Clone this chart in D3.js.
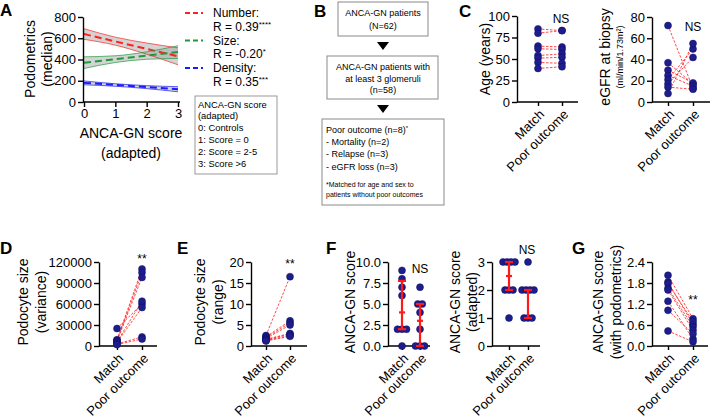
<!DOCTYPE html>
<html><head><meta charset="utf-8">
<script src="https://cdn.jsdelivr.net/npm/d3@7"></script>
<style>body{margin:0;background:#fff}svg{display:block}</style>
</head><body><svg id="fig" width="710" height="420"></svg>
<script>
// ---------- DATA ----------
// Panel A
const scoreTicks = [0, 1, 2, 3];
const podoTicks = [0, 200, 400, 600, 800];
const fitEnds = [0, 3];
const bandX = [0, 1, 2, 3];
const numberFit = [640, 430];
const numberLo = [590, 535, 450, 350];
const numberHi = [690, 610, 555, 510];
const sizeFit = [370, 470];
const sizeLo = [315, 372, 402, 410];
const sizeHi = [425, 435, 472, 530];
const densityFit = [180, 120];
const densityLo = [162, 148, 126, 96];
const densityHi = [198, 172, 154, 144];
const seriesNames = ["Number:", "Size:", "Density:"];
const rTexts = ["R = 0.39", "R = -0.20", "R = 0.35"];
const rStars = ["****", "*", "***"];
const scoreLegend = ["ANCA-GN score", "(adapted)", "0: Controls", "1: Score = 0", "2: Score = 2-5", "3: Score >6"];
// Panel B
const box1Lines = ["ANCA-GN patients", "(N=62)"];
const box2Lines = ["ANCA-GN patients with", "at least 3 glomeruli", "(n=58)"];
const box3Lines = ["Poor outcome (n=8)*", "- Mortality (n=2)", "- Relapse (n=3)", "- eGFR loss (n=3)"];
const box3Note = ["*Matched for age and sex to", "patients without poor outcomes"];
// Groups
const groups = ["Match", "Poor outcome"];
// Panel C
const ageTicks = [0, 25, 50, 75, 100];
const ageMatch = [85, 80, 65, 62, 54, 51, 46, 39];
const agePoor = [83, 83, 64, 61, 56, 52, 45, 41];
const egfrTicks = [0, 20, 40, 60, 80];
const egfrMatch = [72, 37, 30, 25, 21, 17, 14, 8];
const egfrPoor = [13, 17, 18, 15, 50, 42, 12, 55];
// Panel D
const varTicks = [0, 30000, 60000, 90000, 120000];
const varMatch = [25000, 9000, 8000, 7000, 6000, 5000, 3000, 2000];
const varPoor = [60000, 110000, 105000, 98000, 64000, 55000, 13000, 10000];
// Panel E
const rangeTicks = [0, 5, 10, 15, 20];
const rangeMatch = [2.5, 2.2, 2.0, 1.8, 1.6, 1.5, 1.3, 1.2];
const rangePoor = [16.5, 6.0, 5.5, 5.0, 3.0, 2.8, 2.5, 2.3];
// Panel F
const scoreFTicks = [0, 2.5, 5, 7.5, 10];
const scoreMatch = [9, 8, 7, 6, 2, 2, 2, 0];
const scorePoor = [7, 5, 5, 4, 2, 0, 0, 0];
const adaptTicks = [0, 1, 2, 3];
const adaptMatch = [3, 3, 3, 3, 2, 2, 2, 1];
const adaptPoor = [3, 2, 2, 2, 2, 1, 1, 1];
// Panel G
const podoScoreTicks = [0, 0.6, 1.2, 1.8, 2.4];
const podoScoreMatch = [2.02, 1.83, 1.78, 1.65, 1.60, 1.28, 1.02, 0.43];
const podoScorePoor = [0.78, 0.62, 0.70, 0.55, 0.45, 0.20, 0.35, 0.12];

// ---------- DRAWING ----------
const FONT = 'Arial, "Liberation Sans", Helvetica, sans-serif';
const svg = d3.select("#fig").style("font-family", FONT);
svg.append("rect").attr("width", 710).attr("height", 420).attr("fill", "#fff");
const RED = "#ff1a1a", NAVY = "#1d1d8c";

function panelLetter(t, x, y) {
  svg.append("text").attr("x", x).attr("y", y).text(t)
    .attr("font-size", 17).attr("font-weight", 900).attr("fill", "#000");
}
function vlabel(t, x, cy, size) {
  svg.append("text").attr("transform", `translate(${x},${cy}) rotate(-90)`)
    .attr("text-anchor", "middle").attr("dy", "0.35em")
    .attr("font-size", size).text(t);
}
function styleAxis(g) {
  g.selectAll("path,line").attr("stroke", "#000").attr("stroke-width", 1.4);
  g.selectAll("text").attr("font-size", 13).attr("font-family", FONT).attr("fill", "#000");
}

// ===== Panel A =====
panelLetter("A", 0, 16);
{
  const x = d3.scaleLinear().domain([0, 3]).range([84, 178]);
  const y = d3.scaleLinear().domain([0, 800]).range([102, 17]);
  const specs = [
    {fit: numberFit, lo: numberLo, hi: numberHi, c: "#ff2020"},
    {fit: sizeFit, lo: sizeLo, hi: sizeHi, c: "#1e9a3c"},
    {fit: densityFit, lo: densityLo, hi: densityHi, c: "#1a1aff"}
  ];
  const area = d3.area().x((d, i) => x(bandX[i])).y0(d => y(d[0])).y1(d => y(d[1])).curve(d3.curveMonotoneX);
  const edge = d3.line().x((d, i) => x(bandX[i])).y(d => y(d)).curve(d3.curveMonotoneX);
  specs.forEach(s => {
    svg.append("path").attr("d", area(s.lo.map((v, i) => [v, s.hi[i]])))
      .attr("fill", "#a8a8a8").attr("fill-opacity", 0.5);
  });
  specs.forEach(s => {
    [s.lo, s.hi].forEach(arr => svg.append("path").attr("d", edge(arr))
      .attr("fill", "none").attr("stroke", s.c).attr("stroke-width", 0.7));
    svg.append("line").attr("x1", x(fitEnds[0])).attr("x2", x(fitEnds[1]))
      .attr("y1", y(s.fit[0])).attr("y2", y(s.fit[1]))
      .attr("stroke", s.c).attr("stroke-width", 2).attr("stroke-dasharray", "7,4");
  });
  const ga = svg.append("g").attr("transform", "translate(83,0)")
    .call(d3.axisLeft(y).tickValues(podoTicks).tickSize(5).tickSizeOuter(0).tickPadding(2));
  styleAxis(ga);
  const gx = svg.append("g").attr("transform", "translate(0,102)")
    .call(d3.axisBottom(x).tickValues(scoreTicks).tickFormat(d3.format("d")).tickSize(5).tickSizeOuter(0).tickPadding(2));
  styleAxis(gx);
  gx.select(".domain").attr("d", "M83,0H180");
  svg.append("text").attr("x", 131).attr("y", 138).attr("text-anchor", "middle").attr("font-size", 14).text("ANCA-GN score");
  svg.append("text").attr("x", 131).attr("y", 158).attr("text-anchor", "middle").attr("font-size", 14).text("(adapted)");
  vlabel("Podometrics", 30, 59, 14);
  vlabel("(median)", 47, 59, 14);
  // legend
  specs.forEach((s, i) => {
    const cy = 13 + i * 27.5;
    svg.append("line").attr("x1", 185).attr("x2", 203).attr("y1", cy).attr("y2", cy)
      .attr("stroke", s.c).attr("stroke-width", 2).attr("stroke-dasharray", "5,3");
    svg.append("text").attr("x", 213).attr("y", cy + 4).attr("font-size", 12).text(seriesNames[i]);
    const t = svg.append("text").attr("x", 213).attr("y", cy + 17.8).attr("font-size", 12).text(rTexts[i]);
    t.append("tspan").attr("font-size", 8).attr("dy", -4).text(rStars[i]);
  });
  svg.append("rect").attr("x", 195).attr("y", 96).attr("width", 82).attr("height", 78)
    .attr("fill", "#fff").attr("stroke", "#999").attr("stroke-width", 1);
  scoreLegend.forEach((t, i) => svg.append("text").attr("x", 198).attr("y", 107.5 + i * 11.8)
    .attr("font-size", 9.4).text(t));
}

// ===== Panel B =====
panelLetter("B", 314, 17);
{
  const cx = 383;
  function box(x0, x1, y0, y1) {
    svg.append("rect").attr("x", x0).attr("y", y0).attr("width", x1 - x0).attr("height", y1 - y0)
      .attr("fill", "#fff").attr("stroke", "#8a8a8a").attr("stroke-width", 1);
  }
  function tri(y0) {
    svg.append("path").attr("d", `M${cx - 6},${y0}L${cx + 6},${y0}L${cx},${y0 + 8}Z`).attr("fill", "#000");
  }
  box(338, 428, 2, 36);
  box1Lines.forEach((t, i) => svg.append("text").attr("x", cx).attr("y", 16 + i * 12.5)
    .attr("text-anchor", "middle").attr("font-size", 9).text(t));
  tri(42);
  box(327, 438, 56, 99);
  box2Lines.forEach((t, i) => svg.append("text").attr("x", cx).attr("y", 70 + i * 11.5)
    .attr("text-anchor", "middle").attr("font-size", 9).text(t));
  tri(105);
  box(322, 444, 119, 205);
  box3Lines.forEach((t, i) => {
    const tx = svg.append("text").attr("x", 326).attr("y", 133 + i * 12.2).attr("font-size", 9);
    if (t.endsWith("*")) { tx.text(t.slice(0, -1)); tx.append("tspan").attr("font-size", 6).attr("dy", -3).text("*"); }
    else tx.text(t);
  });
  box3Note.forEach((t, i) => svg.append("text").attr("x", 326).attr("y", 187 + i * 10)
    .attr("font-size", 7).text(t));
}

// ===== Paired panels =====
function quant(sorted, p) {
  const n = sorted.length, h = (n + 1) * p;
  if (h <= 1) return sorted[0];
  if (h >= n) return sorted[n - 1];
  const lo = Math.floor(h);
  return sorted[lo - 1] + (h - lo) * (sorted[lo] - sorted[lo - 1]);
}
function panel(cfg) {
  const y = d3.scaleLinear().domain(cfg.domain).range([cfg.yBot, cfg.yTop]);
  const x = d3.scalePoint().domain(groups).range([cfg.mx, cfg.px]);
  const ga = svg.append("g").attr("transform", `translate(${cfg.ax},0)`)
    .call(d3.axisLeft(y).tickValues(cfg.ticks).tickFormat(cfg.fmt || d3.format("d"))
      .tickSize(5).tickSizeOuter(0).tickPadding(2));
  styleAxis(ga);
  const gx = svg.append("g").attr("transform", `translate(0,${cfg.yBot})`)
    .call(d3.axisBottom(x).tickSize(4).tickSizeOuter(0).tickFormat(""));
  styleAxis(gx);
  gx.select(".domain").attr("d", `M${cfg.ax},0H${cfg.xEnd}`);
  groups.forEach(g => {
    svg.append("text").attr("transform", `translate(${x(g) + 4},${cfg.yBot + 10}) rotate(-45)`)
      .attr("text-anchor", "end").attr("dy", "0.35em").attr("font-size", 13).text(g);
  });
  if (cfg.paired) {
    cfg.a.forEach((v, i) => svg.append("line")
      .attr("x1", x(groups[0])).attr("y1", y(v)).attr("x2", x(groups[1])).attr("y2", y(cfg.b[i]))
      .attr("stroke", RED).attr("stroke-width", 0.8).attr("stroke-dasharray", "2.5,1.5"));
    [cfg.a, cfg.b].forEach((arr, k) => arr.forEach(v => svg.append("circle")
      .attr("cx", x(groups[k])).attr("cy", y(v)).attr("r", 3.5)
      .attr("fill", NAVY).attr("stroke", "#0e0e66").attr("stroke-width", 0.5)));
  } else {
    [cfg.a, cfg.b].forEach((arr, k) => {
      const counts = d3.rollup(arr, v => v.length, d => d);
      const seen = new Map();
      arr.forEach(v => {
        const n = counts.get(v), j = seen.get(v) || 0; seen.set(v, j + 1);
        const off = (j - (n - 1) / 2) * cfg.spread;
        svg.append("circle").attr("cx", x(groups[k]) + off).attr("cy", y(v)).attr("r", 3.5)
          .attr("fill", NAVY).attr("stroke", "#0e0e66").attr("stroke-width", 0.5);
      });
      const s = arr.slice().sort(d3.ascending);
      const q1 = quant(s, 0.25), md = quant(s, 0.5), q3 = quant(s, 0.75), cxp = x(groups[k]);
      const bar = svg.append("g").attr("stroke", RED).attr("stroke-width", 2.2);
      bar.append("line").attr("x1", cxp).attr("x2", cxp).attr("y1", y(q1)).attr("y2", y(q3));
      [q1, q3].forEach(q => bar.append("line").attr("x1", cxp - 4).attr("x2", cxp + 4).attr("y1", y(q)).attr("y2", y(q)));
      bar.append("line").attr("x1", cxp - 3).attr("x2", cxp + 3).attr("y1", y(md)).attr("y2", y(md));
    });
  }
  if (cfg.sig) svg.append("text").attr("x", cfg.sig[1]).attr("y", cfg.sig[2]).attr("text-anchor", "middle")
    .attr("dy", "0.35em").attr("font-size", 12).text(cfg.sig[0]);
}

// ===== Panel C =====
panelLetter("C", 459, 17);
vlabel("Age (years)", 485, 59, 14);
panel({ax: 517, xEnd: 578, yTop: 16, yBot: 102, domain: [0, 100], ticks: ageTicks, mx: 538, px: 562,
  a: ageMatch, b: agePoor, paired: true, sig: ["NS", 561, 19]});
vlabel("eGFR at biopsy", 605, 57, 14);
svg.append("text").attr("transform", "translate(620,57) rotate(-90)").attr("text-anchor", "middle")
  .attr("dy", "0.35em").attr("font-size", 9).text("(ml/min/1.73m²)");
panel({ax: 652, xEnd: 710, yTop: 17, yBot: 102, domain: [0, 80], ticks: egfrTicks, mx: 668, px: 693,
  a: egfrMatch, b: egfrPoor, paired: true, sig: ["NS", 693, 27]});

// ===== Panel D =====
panelLetter("D", 0, 254);
vlabel("Podocyte size", 23, 302, 14);
vlabel("(variance)", 41, 302, 14);
panel({ax: 99, xEnd: 157, yTop: 262, yBot: 346, domain: [0, 120000], ticks: varTicks, mx: 117, px: 142,
  a: varMatch, b: varPoor, paired: true, sig: ["**", 142, 259]});

// ===== Panel E =====
panelLetter("E", 177, 254);
vlabel("Podocyte size", 200, 302, 14);
vlabel("(range)", 218, 302, 14);
panel({ax: 251, xEnd: 307, yTop: 262, yBot: 346, domain: [0, 20], ticks: rangeTicks, mx: 266, px: 290,
  a: rangeMatch, b: rangePoor, paired: true, sig: ["**", 290, 264]});

// ===== Panel F =====
panelLetter("F", 326, 254);
vlabel("ANCA-GN score", 350, 302, 14);
panel({ax: 388, xEnd: 430, yTop: 262, yBot: 346, domain: [0, 10], ticks: scoreFTicks, fmt: d3.format(".1f"),
  mx: 402, px: 420, a: scoreMatch, b: scorePoor, paired: false, spread: 4.5, sig: ["NS", 420, 269]});
vlabel("ANCA-GN score", 455, 302, 14);
vlabel("(adapted)", 472, 302, 14);
panel({ax: 492, xEnd: 540, yTop: 262, yBot: 346, domain: [0, 3], ticks: adaptTicks,
  mx: 509, px: 528, a: adaptMatch, b: adaptPoor, paired: false, spread: 4, sig: ["NS", 527, 250]});

// ===== Panel G =====
panelLetter("G", 572, 254);
vlabel("ANCA-GN score", 598, 302, 14);
vlabel("(with podometrics)", 616, 302, 14);
panel({ax: 652, xEnd: 708, yTop: 262, yBot: 346, domain: [0, 2.4], ticks: podoScoreTicks, fmt: d3.format(".1f"),
  mx: 668, px: 693, a: podoScoreMatch, b: podoScorePoor, paired: true, sig: ["**", 693, 300]});
</script></body></html>
